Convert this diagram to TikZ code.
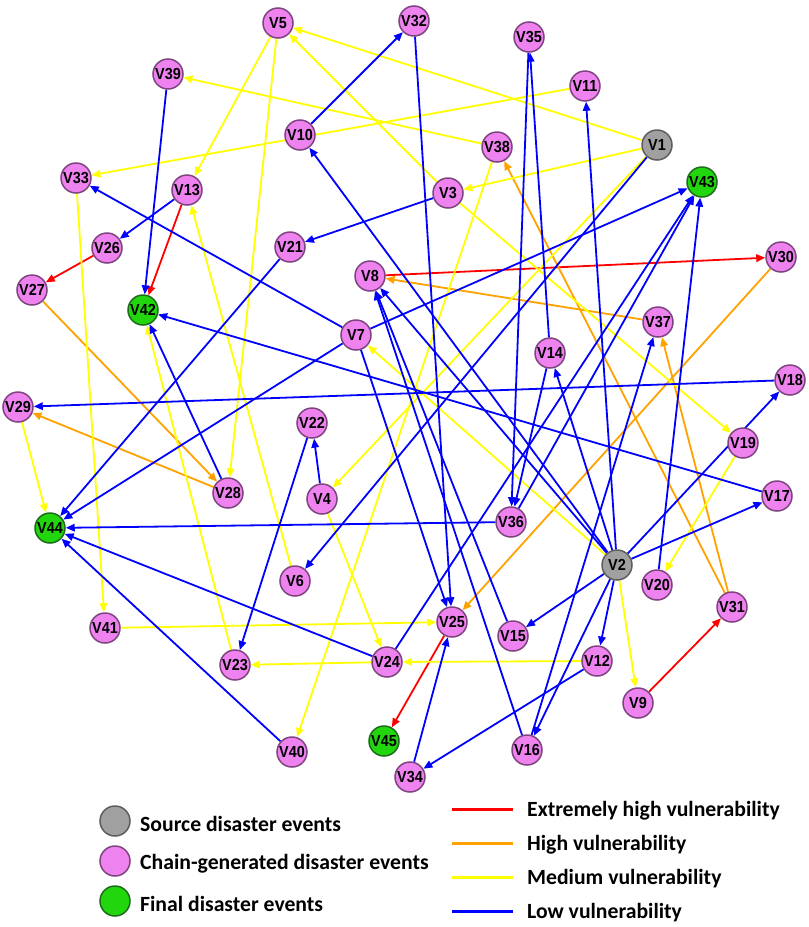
\documentclass[tikz,border=0pt]{standalone}
\usepackage{fontspec}
\setmainfont{Liberation Sans}
\newfontfamily\legfont{Carlito}
\newfontfamily\vfont[FakeStretch=0.9]{Liberation Sans}
\usetikzlibrary{arrows.meta}
\definecolor{vfill}{HTML}{EE82EE}
\definecolor{vdraw}{HTML}{7E4480}
\definecolor{gfill}{HTML}{A0A0A0}
\definecolor{gdraw}{HTML}{5E5E5E}
\definecolor{nfill}{HTML}{22D60E}
\definecolor{ndraw}{HTML}{1E6B1E}
\definecolor{cred}{HTML}{FF0000}
\definecolor{corange}{HTML}{FFA200}
\definecolor{cyellow}{HTML}{FFFF00}
\definecolor{cblue}{HTML}{0000FF}
\pgfdeclarelayer{bg}
\pgfsetlayers{bg,main}
\begin{document}
\begin{tikzpicture}[x=1pt,y=-1pt,
  ev/.style={circle,minimum size=30pt,inner sep=0pt,line width=1.5pt,font=\vfont\bfseries\fontsize{16}{16}\selectfont},
  chain/.style={ev,fill=vfill,draw=vdraw},
  src/.style={ev,fill=gfill,draw=gdraw},
  fin/.style={ev,fill=nfill,draw=ndraw},
  lk/.style={line width=1.8pt,-{Triangle[length=9pt,width=7.5pt]}},
  ex/.style={lk,draw=cred},
  hi/.style={lk,draw=corange},
  me/.style={lk,draw=cyellow},
  lo/.style={lk,draw=cblue},
  legev/.style={circle,minimum size=30pt,inner sep=0pt,line width=1.5pt},
  legtxt/.style={anchor=west,inner sep=0pt,font=\legfont\bfseries\fontsize{21.7}{22}\selectfont},
  legline/.style={line width=3pt}]
\useasboundingbox (0,0) rectangle (809,927);
% nodes
\node[src] (V1) at (657,145) {V1};
\node[src] (V2) at (617,565) {V2};
\node[chain] (V3) at (448,193) {V3};
\node[chain] (V4) at (322,499) {V4};
\node[chain] (V5) at (278,23) {V5};
\node[chain] (V6) at (295,581) {V6};
\node[chain] (V7) at (356,335) {V7};
\node[chain] (V8) at (370,276) {V8};
\node[chain] (V9) at (638,703) {V9};
\node[chain] (V10) at (300,135) {V10};
\node[chain] (V11) at (585,86) {V11};
\node[chain] (V12) at (597,661) {V12};
\node[chain] (V13) at (187,190) {V13};
\node[chain] (V14) at (550,353) {V14};
\node[chain] (V15) at (513,636) {V15};
\node[chain] (V16) at (527,750) {V16};
\node[chain] (V17) at (777,496) {V17};
\node[chain] (V18) at (790,380) {V18};
\node[chain] (V19) at (743,443) {V19};
\node[chain] (V20) at (657,585) {V20};
\node[chain] (V21) at (290,247) {V21};
\node[chain] (V22) at (312,423) {V22};
\node[chain] (V23) at (235,665) {V23};
\node[chain] (V24) at (387,662) {V24};
\node[chain] (V25) at (452,622) {V25};
\node[chain] (V26) at (107,248) {V26};
\node[chain] (V27) at (32,290) {V27};
\node[chain] (V28) at (228,493) {V28};
\node[chain] (V29) at (18,407) {V29};
\node[chain] (V30) at (781,257) {V30};
\node[chain] (V31) at (732,607) {V31};
\node[chain] (V32) at (414,21) {V32};
\node[chain] (V33) at (76,178) {V33};
\node[chain] (V34) at (410,777) {V34};
\node[chain] (V35) at (529,37) {V35};
\node[chain] (V36) at (511,522) {V36};
\node[chain] (V37) at (658,322) {V37};
\node[chain] (V38) at (497,147) {V38};
\node[chain] (V39) at (168,74) {V39};
\node[chain] (V40) at (292,752) {V40};
\node[chain] (V41) at (105,628) {V41};
\node[fin] (V42) at (143,310) {V42};
\node[fin] (V43) at (702,182) {V43};
\node[fin] (V44) at (50,528) {V44};
\node[fin] (V45) at (384,741) {V45};
% edges
\begin{pgfonlayer}{bg}
% extremely high
\draw[ex] (V13) -- (V42);
\draw[ex] (V26) -- (V27);
\draw[ex] (V8) -- (V30);
\draw[ex] (V25) -- (V45);
\draw[ex] (V9) -- (V31);
% high
\draw[hi] (V27) -- (V28);
\draw[hi] (V28) -- (V29);
\draw[hi] (V37) -- (V8);
\draw[hi] (V30) -- (V25);
\draw[hi] (V31) -- (V38);
\draw[hi] (V31) -- (V37);
% medium
\draw[me] (V1) -- (V5);
\draw[me] (V1) -- (V3);
\draw[me] (V1) -- (V4);
\draw[me] (V3) -- (V5);
\draw[me] (V3) -- (V19);
\draw[me] (V38) -- (V39);
\draw[me] (V38) -- (V40);
\draw[me] (V11) -- (V33);
\draw[me] (V5) -- (V13);
\draw[me] (V5) -- (V28);
\draw[me] (V6) -- (V13);
\draw[me] (V29) -- (V44);
\draw[me] (V33) -- (V41);
\draw[me] (V23) -- (V42);
\draw[me] (V41) -- (V25);
\draw[me] (V12) -- (V24);
\draw[me] (V24) -- (V23);
\draw[me] (V2) -- (V9);
\draw[me] (V19) -- (V20);
\draw[me] (V2) -- (V7);
\draw[me] (V4) -- (V24);
% low
\draw[lo] (V10) -- (V32);
\draw[lo] (V32) -- (V25);
\draw[lo] (V3) -- (V21);
\draw[lo] (V2) -- (V10);
\draw[lo] (V39) -- (V42);
\draw[lo] (V13) -- (V26);
\draw[lo] (V7) -- (V33);
\draw[lo] (V21) -- (V44);
\draw[lo] (V7) -- (V43);
\draw[lo] (V7) -- (V44);
\draw[lo] (V17) -- (V42);
\draw[lo] (V28) -- (V42);
\draw[lo] (V18) -- (V29);
\draw[lo] (V36) -- (V44);
\draw[lo] (V24) -- (V44);
\draw[lo] (V40) -- (V44);
\draw[lo] (V22) -- (V23);
\draw[lo] (V4) -- (V22);
\draw[lo] (V1) -- (V6);
\draw[lo] (V7) -- (V25);
\draw[lo] (V2) -- (V8);
\draw[lo] (V15) -- (V8);
\draw[lo] (V16) -- (V8);
\draw[lo] (V2) -- (V14);
\draw[lo] (V14) -- (V35);
\draw[lo] (V35) -- (V36);
\draw[lo] (V14) -- (V36);
\draw[lo] (V36) -- (V43);
\draw[lo] (V24) -- (V43);
\draw[lo] (V20) -- (V43);
\draw[lo] (V2) -- (V11);
\draw[lo] (V16) -- (V37);
\draw[lo] (V2) -- (V15);
\draw[lo] (V2) -- (V12);
\draw[lo] (V2) -- (V16);
\draw[lo] (V2) -- (V17);
\draw[lo] (V2) -- (V18);
\draw[lo] (V12) -- (V34);
\draw[lo] (V34) -- (V25);
\end{pgfonlayer}
% legend
\node[legev,fill=gfill,draw=gdraw] (L1) at (115,821) {};
\node[legev,fill=vfill,draw=vdraw] (L2) at (115,861) {};
\node[legev,fill=nfill,draw=ndraw] (L3) at (115,901) {};
\node[legtxt] (T1) at (140,824) {Source disaster events};
\node[legtxt] (T2) at (140,864) {Chain-generated disaster events};
\node[legtxt] (T3) at (140,904) {Final disaster events};
\coordinate (a1) at (452,809); \coordinate (b1) at (513,809);
\coordinate (a2) at (452,843); \coordinate (b2) at (513,843);
\coordinate (a3) at (452,877); \coordinate (b3) at (513,877);
\coordinate (a4) at (452,911); \coordinate (b4) at (513,911);
\draw[legline,cred] (a1) -- (b1);
\draw[legline,corange] (a2) -- (b2);
\draw[legline,cyellow] (a3) -- (b3);
\draw[legline,cblue] (a4) -- (b4);
\node[legtxt] (T4) at (527,811) {Extremely high vulnerability};
\node[legtxt] (T5) at (527,845) {High vulnerability};
\node[legtxt] (T6) at (527,879) {Medium vulnerability};
\node[legtxt] (T7) at (527,913) {Low vulnerability};
\end{tikzpicture}
\end{document}
